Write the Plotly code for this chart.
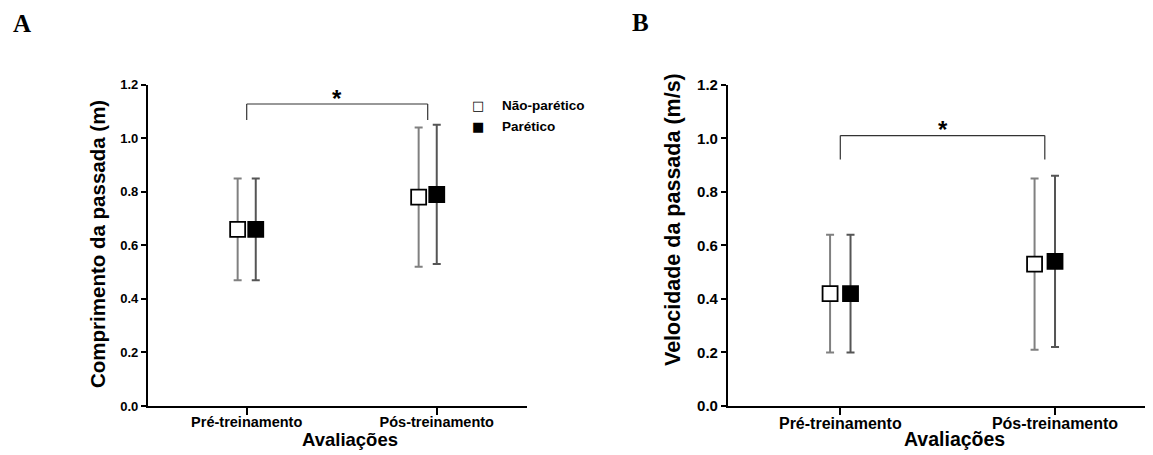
import plotly.graph_objects as go

# ---------------- data ----------------
categories = ["Pré-treinamento", "Pós-treinamento"]
groups = ["Não-parético", "Parético"]

# Panel A: Comprimento da passada (m)
a_nao_mean = [0.66, 0.78]
a_nao_lo = [0.47, 0.52]
a_nao_hi = [0.85, 1.04]
a_par_mean = [0.66, 0.79]
a_par_lo = [0.47, 0.53]
a_par_hi = [0.85, 1.05]

# Panel B: Velocidade da passada (m/s)
b_nao_mean = [0.42, 0.53]
b_nao_lo = [0.20, 0.21]
b_nao_hi = [0.64, 0.85]
b_par_mean = [0.42, 0.54]
b_par_lo = [0.20, 0.22]
b_par_hi = [0.64, 0.86]

y_ticks = [0.0, 0.2, 0.4, 0.6, 0.8, 1.0, 1.2]

# ---------------- layout constants ----------------
W, H = 1153, 455
OFF = 8  # page body margin of the html page
FONT = "Arial, Liberation Sans, sans-serif"
SERIF = "Times New Roman, Liberation Serif, serif"
base_x = [1, 2]
tick_x = [1, 2.05]


def PX(p):
    return (p - OFF) / W


def PY(p):
    return 1 - (p - OFF) / H


# pixel geometry of the panels (screen pixels)
A_left, A_c1, A_c2 = 147.7, 246.7, 427.7
B_left, B_c1, B_c2 = 727.7, 840.3, 1044.8


def xrange_for(left_px, c1_px, c2_px, right_px):
    s = c2_px - c1_px
    return [1 + (left_px - c1_px) / s, 1 + (right_px - c1_px) / s]


fig = go.Figure()


def add_panel(xa, ya, nao_m, nao_lo, nao_hi, par_m, par_lo, par_hi, off):
    x_nao = [b - off for b in base_x]
    x_par = [b + off for b in base_x]
    fig.add_trace(go.Scatter(
        x=x_nao, y=nao_m, mode="markers", xaxis=xa, yaxis=ya, name=groups[0], showlegend=False,
        marker=dict(symbol="square", size=15, color="white", line=dict(color="black", width=1.8)),
        error_y=dict(type="data", symmetric=False,
                     array=[h - m for h, m in zip(nao_hi, nao_m)],
                     arrayminus=[m - l for m, l in zip(nao_m, nao_lo)],
                     color="#808080", thickness=2, width=4),
    ))
    fig.add_trace(go.Scatter(
        x=x_par, y=par_m, mode="markers", xaxis=xa, yaxis=ya, name=groups[1], showlegend=False,
        marker=dict(symbol="square", size=15, color="black", line=dict(color="black", width=1.8)),
        error_y=dict(type="data", symmetric=False,
                     array=[h - m for h, m in zip(par_hi, par_m)],
                     arrayminus=[m - l for m, l in zip(par_m, par_lo)],
                     color="#555555", thickness=2, width=4),
    ))


add_panel("x", "y", a_nao_mean, a_nao_lo, a_nao_hi, a_par_mean, a_par_lo, a_par_hi, 0.05)
add_panel("x2", "y2", b_nao_mean, b_nao_lo, b_nao_hi, b_par_mean, b_par_lo, b_par_hi, 0.05)

y_dom = [PY(406), PY(84.7)]

common_x = dict(showline=True, linecolor="black", linewidth=1.5, ticks="outside", ticklen=7,
                tickcolor="black", tickwidth=1.5, showgrid=False, zeroline=False,
                tickvals=tick_x, ticktext=categories, ticklabelstandoff=-5)
common_y = dict(showline=True, linecolor="black", linewidth=1.5, ticks="outside", ticklen=5,
                tickcolor="black", tickwidth=1.5, showgrid=False, zeroline=False,
                tickvals=y_ticks, tickformat=".1f", range=[0, 1.2])

fig.update_layout(
    width=W, height=H, margin=dict(l=0, r=0, t=0, b=0, autoexpand=False),
    paper_bgcolor="white", plot_bgcolor="white",
    font=dict(family=FONT, color="black"),
    xaxis=dict(domain=[PX(A_left), PX(526.7)], range=xrange_for(A_left, A_c1, A_c2, 526.7),
               anchor="y", tickfont=dict(size=14.5, weight="bold"), **common_x),
    yaxis=dict(domain=y_dom, anchor="x", tickfont=dict(size=13, weight="bold"), **common_y),
    xaxis2=dict(domain=[PX(B_left), 1.0], range=xrange_for(B_left, B_c1, B_c2, W + OFF),
                anchor="y2", tickfont=dict(size=16, weight="bold"), **common_x),
    yaxis2=dict(domain=y_dom, anchor="x2", tickfont=dict(size=15, weight="bold"), **common_y),
    showlegend=False,
)


def note(x, y, text, size, family=FONT, xanchor="center", yanchor="middle", angle=0,
         xref="paper", yref="paper", yshift=0):
    fig.add_annotation(x=x, y=y, xref=xref, yref=yref, text=text, showarrow=False,
                       xanchor=xanchor, yanchor=yanchor, textangle=angle, yshift=yshift,
                       font=dict(size=size, family=family, color="black"))


# significance brackets
def bracket(xa, ya, x0, x1, ytop, ybot):
    for (xs, ys, xe, ye) in [(x0, ybot, x0, ytop), (x0, ytop, x1, ytop), (x1, ytop, x1, ybot)]:
        fig.add_shape(type="line", xref=xa, yref=ya, x0=xs, y0=ys, x1=xe, y1=ye,
                      line=dict(color="#333333", width=1.2))


bracket("x", "y", 1.0, 2.0, 1.128, 1.068)
bracket("x2", "y2", 1.0, 2.0, 1.01, 0.921)
note(1.5, 1.128, "<b>*</b>", 24, xref="x", yref="y", yshift=5)
note(1.5, 1.01, "<b>*</b>", 24, xref="x2", yref="y2", yshift=6)

# legend (text-based)
note(PX(478), PY(105.5), "□", 13, family="DejaVu Sans")
note(PX(478), PY(126.5), "■", 13, family="DejaVu Sans")
note(PX(500), PY(105.5), "<b>Não-parético</b>", 13.5, xanchor="left")
note(PX(500), PY(126.5), "<b>Parético</b>", 13.5, xanchor="left")

# axis titles
note(PX(97), PY(244), "<b>Comprimento da passada (m)</b>", 20.5, angle=-90)
note(PX(673), PY(220), "<b>Velocidade da passada (m/s)</b>", 21.5, angle=-90)
note(PX(349.5), PY(439), "<b>Avaliações</b>", 18.5)
note(PX(954), PY(439), "<b>Avaliações</b>", 19.5)

# panel letters
note(PX(22), PY(24), "<b>A</b>", 25, family=SERIF)
note(PX(640), PY(23), "<b>B</b>", 25, family=SERIF)

fig.write_html("out.html")
